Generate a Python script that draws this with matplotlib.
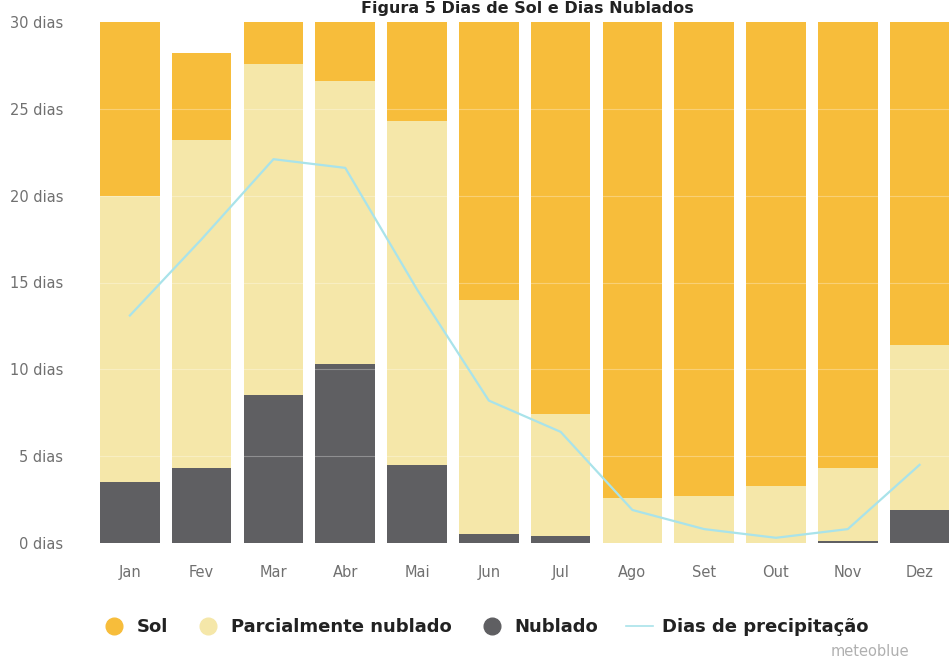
import matplotlib.pyplot as plt
from matplotlib.lines import Line2D
import numpy as np

# monthly values
months = ['Jan', 'Fev', 'Mar', 'Abr', 'Mai', 'Jun', 'Jul', 'Ago', 'Set', 'Out', 'Nov', 'Dez']
nublado = [3.5, 4.3, 8.5, 10.3, 4.5, 0.5, 0.4, 0.0, 0.0, 0.0, 0.1, 1.9]
parcial = [16.5, 18.9, 19.1, 16.3, 19.8, 13.5, 7.0, 2.6, 2.7, 3.3, 4.2, 9.5]
sol = [10.0, 5.0, 2.4, 3.4, 5.7, 16.0, 22.6, 27.4, 27.3, 26.7, 25.7, 18.6]
precip = [13.1, 17.5, 22.1, 21.6, 14.6, 8.2, 6.4, 1.9, 0.8, 0.3, 0.8, 4.5]
yticks = [0, 5, 10, 15, 20, 25, 30]

c_sol = '#f7bd3b'
c_parc = '#f5e7a9'
c_nub = '#5f5f62'
c_line = '#a9e3ea'

W, H = 949, 659
fig = plt.figure(figsize=(W / 100, H / 100), dpi=100)
# plot area in pixels: left 94, right 949, top 22, bottom 543
ax = fig.add_axes([94 / W, 1 - 543 / H, (949 - 94) / W, (543 - 22) / H])

x = np.arange(len(months))
bw = 0.83
nub = np.array(nublado)
par = np.array(parcial)
ax.bar(x, nub, bw, color=c_nub, zorder=2)
ax.bar(x, par, bw, bottom=nub, color=c_parc, zorder=2)
ax.bar(x, sol, bw, bottom=nub + par, color=c_sol, zorder=2)
ax.plot(x, precip, color=c_line, lw=1.6, zorder=3)

# faint grid lines visible across the bars
for t in yticks[1:-1]:
    ax.axhline(t, color='white', lw=0.8, alpha=0.3, zorder=2.5)

ax.set_xlim(-0.50, 11.41)
ax.set_ylim(0, 30)
ax.set_xticks(x)
ax.set_xticklabels(months, fontsize=10.5, color='#707070')
ax.set_yticks(yticks)
ax.set_yticklabels([f'{t} dias' for t in yticks], fontsize=10.5, color='#707070')
ax.tick_params(length=0)
ax.tick_params(axis='x', pad=16)
ax.tick_params(axis='y', pad=22)
for s in ax.spines.values():
    s.set_visible(False)

# title sits in the thin strip above the bars
fig.text(527 / W, 1 - 1 / H, 'Figura 5 Dias de Sol e Dias Nublados', ha='center', va='top',
         fontsize=11.5, fontweight='bold', color='#222222')

handles = [
    Line2D([], [], marker='o', ls='', color=c_sol, markersize=12),
    Line2D([], [], marker='o', ls='', color=c_parc, markersize=12),
    Line2D([], [], marker='o', ls='', color=c_nub, markersize=12),
    Line2D([], [], color=c_line, lw=1.2),
]
labels = ['Sol', 'Parcialmente nublado', 'Nublado', 'Dias de precipitação']
fig.legend(handles, labels, ncol=4, loc='center left', bbox_to_anchor=(84 / W, 1 - 627 / H),
           frameon=False, prop={'weight': 'bold', 'size': 13}, handlelength=1.5,
           handletextpad=0.5, columnspacing=1.5, labelcolor='#222222')

fig.text(870 / W, 1 - 651 / H, 'meteoblue', ha='center', va='center', fontsize=10.5, color='#b0b0b0')

fig.savefig('out.png', dpi=100, facecolor='white')
